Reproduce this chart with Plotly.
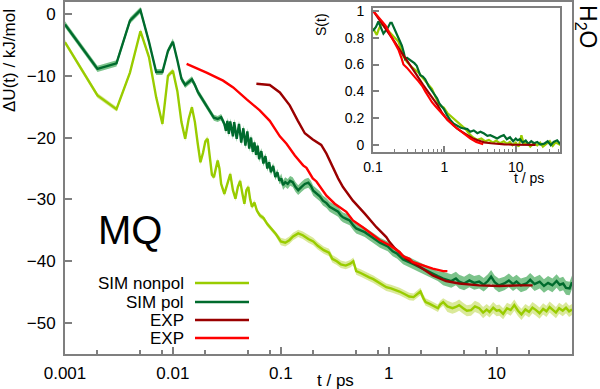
import plotly.graph_objects as go

# ---------------- main panel data ----------------
t_nonpol = [0.001, 0.002, 0.003, 0.004, 0.005, 0.006, 0.007, 0.008, 0.009, 0.010,
            0.011, 0.012, 0.013, 0.014, 0.015, 0.016, 0.017, 0.018, 0.019, 0.020,
            0.021, 0.022, 0.023, 0.024, 0.025, 0.026, 0.027, 0.028, 0.030, 0.032,
            0.034, 0.036, 0.038, 0.040, 0.042, 0.044, 0.046, 0.048, 0.050, 0.052,
            0.054, 0.057, 0.060, 0.064, 0.069, 0.075, 0.082, 0.090, 0.100, 0.110,
            0.120, 0.130, 0.145, 0.160, 0.180, 0.200, 0.220, 0.250, 0.280, 0.300,
            0.330, 0.360, 0.400, 0.440, 0.470, 0.500, 0.550, 0.600, 0.660, 0.720,
            0.800, 0.880, 0.950, 1.05, 1.15, 1.26, 1.40, 1.55, 1.70, 1.85,
            1.97, 2.10, 2.20, 2.40, 2.60, 2.86, 3.00, 3.20, 3.50, 3.90,
            4.20, 4.50, 4.90, 5.30, 5.80, 6.30, 6.90, 7.50, 8.10, 8.60,
            9.30, 10.0, 10.6, 11.5, 12.5, 13.5, 14.6, 15.8, 17.0, 18.5,
            20.0, 21.5, 23.2, 25.0, 27.0, 29.0, 31.0, 33.0, 35.5, 38.0,
            41.0, 44.0, 47.0, 50.0]
u_nonpol = [-4.6, -13.2, -15.4, -9.5, -2.8, -7.0, -13.5, -17.8, -10.0, -9.2,
            -12.5, -17.5, -20.2, -17.0, -15.1, -17.5, -21.0, -24.0, -22.5, -20.6,
            -20.2, -23.0, -26.0, -26.4, -25.0, -23.7, -25.0, -27.5, -29.1, -27.5,
            -25.9, -28.5, -29.9, -28.0, -27.0, -29.0, -30.7, -28.5, -28.0, -30.0,
            -31.2, -30.5, -31.8, -32.6, -33.0, -34.0, -34.8, -35.6, -36.8, -37.0,
            -36.6, -36.0, -35.5, -35.8, -36.4, -36.8, -37.5, -38.2, -38.6, -39.6,
            -40.0, -40.5, -40.7, -40.4, -40.0, -41.6, -41.9, -42.3, -42.6, -42.9,
            -43.4, -43.8, -44.2, -44.4, -44.6, -44.9, -45.3, -45.7, -45.8, -45.2,
            -44.9, -46.0, -46.6, -46.9, -47.2, -47.6, -47.0, -46.6, -47.3, -47.6,
            -47.4, -47.1, -47.6, -48.0, -47.9, -47.3, -47.6, -48.3, -47.8, -48.2,
            -47.5, -48.0, -47.9, -48.5, -47.6, -47.9, -47.1, -48.0, -48.6, -47.8,
            -48.2, -47.5, -47.9, -48.4, -47.7, -48.1, -47.4, -47.8, -48.3, -47.6,
            -48.0, -47.5, -48.1, -47.8]
err_nonpol = [0.4] * 48 + [0.6] * 40 + [0.9] * 36

t_pol = [0.001, 0.002, 0.003, 0.004, 0.005, 0.006, 0.007, 0.008, 0.009, 0.010,
         0.011, 0.012, 0.013, 0.014, 0.015, 0.016, 0.017, 0.018, 0.020, 0.022,
         0.024, 0.026, 0.028, 0.030, 0.031, 0.032, 0.033, 0.034, 0.036, 0.037,
         0.039, 0.041, 0.043, 0.045, 0.047, 0.049, 0.051, 0.053, 0.055, 0.057,
         0.059, 0.061, 0.063, 0.066, 0.069, 0.072, 0.075, 0.078, 0.081, 0.085,
         0.089, 0.093, 0.097, 0.101, 0.105, 0.110, 0.116, 0.122, 0.129, 0.137,
         0.145, 0.155, 0.167, 0.180, 0.190, 0.200, 0.214, 0.230, 0.246, 0.265,
         0.284, 0.310, 0.340, 0.360, 0.377, 0.400, 0.435, 0.470, 0.500, 0.550,
         0.600, 0.660, 0.720, 0.770, 0.830, 0.900, 0.980, 1.09, 1.20, 1.36,
         1.50, 1.66, 1.85, 2.05, 2.30, 2.56, 2.85, 3.20, 3.50, 3.80,
         4.20, 4.50, 5.00, 5.60, 6.20, 6.90, 7.60, 8.30, 8.90, 9.60,
         10.5, 11.8, 13.0, 14.2, 15.3, 16.8, 18.9, 20.5, 22.5, 25.1,
         27.5, 30.0, 32.9, 36.0, 38.5, 41.4, 44.0, 47.5, 50.0]
u_pol = [-1.7, -8.9, -8.0, -1.1, 0.6, -4.5, -9.4, -9.4, -6.0, -4.5,
         -7.5, -10.5, -11.5, -11.0, -10.6, -11.5, -12.6, -13.3, -14.6, -15.8,
         -16.8, -17.0, -16.7, -17.8, -18.9, -17.3, -19.4, -17.4, -19.8, -17.5,
         -20.2, -17.8, -20.8, -18.5, -21.3, -19.0, -21.8, -20.0, -22.3, -20.8,
         -22.8, -21.3, -23.5, -22.2, -24.2, -23.0, -25.0, -24.0, -25.6, -24.6,
         -26.4, -25.6, -27.0, -26.6, -27.7, -27.2, -27.5, -27.0, -27.2, -28.0,
         -28.5, -28.0, -27.5, -27.3, -27.8, -28.6, -29.1, -29.5, -30.2, -30.6,
         -31.2, -31.6, -32.0, -32.6, -32.9, -33.1, -33.4, -34.2, -34.7, -35.0,
         -35.3, -35.8, -36.2, -36.6, -37.0, -37.3, -37.6, -38.4, -38.8, -39.7,
         -40.0, -40.4, -40.8, -41.2, -41.6, -42.0, -42.4, -42.8, -43.0, -43.2,
         -42.8, -43.3, -43.6, -43.1, -43.5, -43.3, -43.8, -43.2, -42.5, -43.4,
         -43.9, -43.6, -43.1, -43.7, -43.3, -43.9, -43.6, -43.0, -43.7, -43.3,
         -44.0, -43.5, -43.9, -43.2, -43.8, -43.6, -44.3, -44.4, -43.4]
err_pol = [0.5] * 53 + [0.8] * 44 + [1.1] * 32

t_exp_dark = [0.0594, 0.079, 0.098, 0.121, 0.144, 0.167, 0.198, 0.237, 0.265, 0.284,
              0.316, 0.340, 0.377, 0.466, 0.600, 0.770, 0.950, 1.02, 1.14, 1.45,
              1.94, 2.56, 3.40, 4.50, 6.90, 10.6, 16.3, 21.6]
u_exp_dark = [-11.3, -11.5, -12.7, -14.8, -17.3, -19.3, -20.3, -21.2, -22.6, -23.7,
              -25.6, -26.6, -28.0, -30.2, -32.3, -34.5, -36.1, -36.9, -37.9, -39.6,
              -40.9, -42.3, -43.2, -43.6, -43.9, -44.0, -43.9, -43.9]

t_exp_red = [0.0134, 0.0205, 0.0292, 0.0362, 0.048, 0.0638, 0.079, 0.091, 0.098, 0.113,
             0.129, 0.135, 0.161, 0.173, 0.198, 0.214, 0.265, 0.316, 0.405, 0.466,
             0.575, 0.720, 0.830, 1.02, 1.26, 1.36, 1.56, 1.66, 2.05, 2.56,
             3.20, 3.50]
u_exp_red = [-8.1, -9.5, -10.8, -11.9, -13.8, -15.6, -17.3, -19.0, -19.8, -21.0,
             -22.4, -22.9, -24.5, -24.9, -26.6, -27.1, -29.4, -30.7, -32.0, -33.4,
             -34.5, -35.8, -36.6, -37.4, -38.5, -39.2, -39.6, -40.1, -40.6, -41.2,
             -41.6, -41.6]

# ---------------- inset data ----------------
ts_nonpol = [0.1, 0.107, 0.113, 0.12, 0.133, 0.145, 0.156, 0.175, 0.193, 0.21,
             0.227, 0.245, 0.267, 0.298, 0.32, 0.35, 0.39, 0.435, 0.48, 0.54,
             0.6, 0.67, 0.75, 0.83, 0.9, 0.98, 1.1, 1.28, 1.45, 1.67,
             1.85, 1.98, 2.2, 2.5, 2.9, 3.3, 3.7, 4.2, 4.8, 5.3,
             6.0, 6.8, 7.5, 8.3, 9.0, 10.0, 11.0, 12.0, 13.0, 14.5,
             16.0, 18.0, 20.0, 22.0, 24.0, 27.0, 30.0, 33.0, 36.0, 40.0, 42.0]
s_nonpol = [0.87, 0.84, 0.82, 0.86, 0.91, 0.88, 0.86, 0.83, 0.81, 0.79,
            0.77, 0.72, 0.66, 0.62, 0.60, 0.58, 0.56, 0.54, 0.51, 0.48,
            0.45, 0.42, 0.36, 0.31, 0.29, 0.28, 0.24, 0.21, 0.18, 0.15,
            0.13, 0.12, 0.09, 0.06, 0.04, 0.05, 0.03, 0.04, 0.02, 0.035,
            0.015, 0.03, 0.01, 0.025, 0.0, 0.02, -0.01, 0.075, 0.01, 0.02,
            -0.01, 0.015, 0.0, 0.02, -0.01, 0.01, 0.03, -0.005, 0.02, 0.01, 0.0]

ts_pol = [0.1, 0.11, 0.119, 0.13, 0.14, 0.16, 0.175, 0.183, 0.2, 0.215,
          0.235, 0.254, 0.27, 0.283, 0.3, 0.32, 0.35, 0.38, 0.41, 0.44,
          0.46, 0.5, 0.54, 0.6, 0.66, 0.72, 0.79, 0.85, 0.98, 1.1,
          1.2, 1.35, 1.5, 1.7, 1.87, 2.1, 2.3, 2.58, 2.9, 3.2,
          3.6, 4.0, 4.4, 4.9, 5.5, 6.1, 6.8, 7.5, 8.3, 9.2,
          10.0, 10.6, 11.5, 12.5, 13.8, 15.0, 16.5, 18.0, 20.0, 22.0,
          25.0, 28.0, 31.0, 34.0, 38.0, 42.0]
s_pol = [0.85, 0.88, 0.92, 0.87, 0.83, 0.87, 0.91, 0.91, 0.86, 0.83,
         0.78, 0.74, 0.69, 0.64, 0.65, 0.64, 0.62, 0.61, 0.59, 0.55,
         0.52, 0.51, 0.49, 0.44, 0.41, 0.38, 0.35, 0.31, 0.27, 0.22,
         0.19, 0.16, 0.145, 0.13, 0.125, 0.12, 0.10, 0.11, 0.09, 0.10,
         0.087, 0.07, 0.075, 0.062, 0.05, 0.065, 0.075, 0.045, 0.06, 0.03,
         0.05, 0.037, 0.045, 0.02, 0.035, 0.01, 0.03, 0.015, 0.025, 0.005,
         0.012, 0.03, 0.0, 0.025, 0.037, 0.01]

ts_exp_dark = [0.1, 0.12, 0.15, 0.2, 0.25, 0.3, 0.35, 0.4, 0.5, 0.6,
               0.7, 0.8, 0.93, 1.1, 1.28, 1.5, 1.77, 2.0, 2.5, 3.0,
               3.6, 4.5, 5.5, 7.0, 9.0, 12.0, 15.0, 19.0]
s_exp_dark = [1.0, 0.94, 0.87, 0.77, 0.69, 0.63, 0.58, 0.53, 0.45, 0.39,
              0.34, 0.30, 0.24, 0.19, 0.16, 0.125, 0.10, 0.08, 0.05, 0.035,
              0.022, 0.015, 0.01, 0.007, 0.005, 0.004, 0.003, 0.003]

ts_exp_red = [0.1, 0.125, 0.15, 0.175, 0.2, 0.227, 0.25, 0.267, 0.3, 0.332,
              0.38, 0.435, 0.49, 0.54, 0.6, 0.67, 0.75, 0.88, 1.0, 1.15,
              1.35, 1.59, 1.8, 1.98, 2.32, 2.8, 3.3, 3.5]
s_exp_red = [1.0, 0.94, 0.89, 0.82, 0.76, 0.71, 0.65, 0.60, 0.575, 0.55,
             0.51, 0.475, 0.44, 0.40, 0.36, 0.32, 0.29, 0.25, 0.21, 0.18,
             0.145, 0.115, 0.095, 0.08, 0.05, 0.025, 0.01, 0.008]

main_ticks = [0.001, 0.01, 0.1, 1, 10]
main_ticktext = ["0.001", "0.01", "0.1", "1", "10"]
main_minor = [m * d for d in (0.001, 0.01, 0.1, 1, 10) for m in (2, 5, 8)]
u_ticks = [0, -10, -20, -30, -40, -50]
inset_ticks = [0.1, 1, 10]
inset_ticktext = ["0.1", "1", "10"]
inset_minor = [m * d for d in (0.1, 1, 10) for m in range(2, 10)]
s_ticks = [0, 0.2, 0.4, 0.6, 0.8, 1]
s_ticktext = ["0", "0.2", "0.4", "0.6", "0.8", "1"]

legend_labels = ["SIM nonpol", "SIM pol", "EXP", "EXP"]

# ---------------- styles ----------------
C_NONPOL = "#99cc00"
C_NONPOL_BAND = "rgba(205,225,120,0.75)"
C_POL = "#006b2d"
C_POL_BAND = "rgba(80,175,100,0.75)"
C_DARK = "#9a0000"
C_RED = "#ff0000"
AX = "#7f7f7f"
FONT = "Liberation Sans, Arial, sans-serif"

fig = go.Figure()


def band(t, u, e, color, xa, ya):
    up = [a + b for a, b in zip(u, e)]
    lo = [a - b for a, b in zip(u, e)]
    fig.add_trace(go.Scatter(x=t, y=up, mode="lines", line=dict(width=0, color=color),
                             xaxis=xa, yaxis=ya, showlegend=False, hoverinfo="skip"))
    fig.add_trace(go.Scatter(x=t, y=lo, mode="lines", line=dict(width=0, color=color),
                             fill="tonexty", fillcolor=color,
                             xaxis=xa, yaxis=ya, showlegend=False, hoverinfo="skip"))


def line(t, u, color, xa, ya, w=2.4):
    fig.add_trace(go.Scatter(x=t, y=u, mode="lines", line=dict(color=color, width=w),
                             xaxis=xa, yaxis=ya, showlegend=False))


assert len(t_nonpol) == len(u_nonpol) == len(err_nonpol)
assert len(t_pol) == len(u_pol) == len(err_pol)

band(t_nonpol, u_nonpol, err_nonpol, C_NONPOL_BAND, "x", "y")
line(t_nonpol, u_nonpol, C_NONPOL, "x", "y")
band(t_pol, u_pol, err_pol, C_POL_BAND, "x", "y")
line(t_pol, u_pol, C_POL, "x", "y")
line(t_exp_dark, u_exp_dark, C_DARK, "x", "y")
line(t_exp_red, u_exp_red, C_RED, "x", "y")

line(ts_nonpol, s_nonpol, C_NONPOL, "x2", "y2", 2.2)
line(ts_pol, s_pol, C_POL, "x2", "y2", 2.2)
line(ts_exp_dark, s_exp_dark, C_DARK, "x2", "y2", 2.2)
line(ts_exp_red, s_exp_red, C_RED, "x2", "y2", 2.2)

W, H = 600, 389
def px(x):
    return x / W
def py(y):
    return 1 - y / H

common = dict(showline=True, linecolor=AX, linewidth=2, mirror=True, automargin=False,
              showgrid=False, zeroline=False, ticks="inside", tickcolor=AX,
              tickwidth=1.5)
f_main = dict(family=FONT, color="black", size=17)
f_in = dict(family=FONT, color="black", size=14)

fig.update_layout(
    template="none",
    width=W, height=H, margin=dict(l=0, r=0, t=0, b=0, autoexpand=False),
    paper_bgcolor="white", plot_bgcolor="white", showlegend=False,
    font=dict(family=FONT, color="black"),
    xaxis=dict(type="log", range=[-3, 1.699], domain=[px(65), px(572)], anchor="y",
               tickvals=main_ticks, ticktext=main_ticktext, ticklen=7, tickfont=f_main,
               ticklabelstandoff=3,
               minor=dict(tickvals=main_minor, ticks="inside", ticklen=4,
                          tickcolor=AX, tickwidth=1.5), **common),
    yaxis=dict(range=[-55, 2], domain=[py(354), py(1.5)], anchor="x",
               tickvals=u_ticks, ticklen=7, tickfont=f_main, ticklabelstandoff=4,
               **common),
    xaxis2=dict(type="log", range=[-1, 1.62], domain=[px(373), px(560)], anchor="y2",
                tickvals=inset_ticks, ticktext=inset_ticktext, ticklen=6, tickfont=f_in,
                ticklabelstandoff=1,
                minor=dict(tickvals=inset_minor, ticks="inside", ticklen=3,
                           tickcolor=AX, tickwidth=1.2), **common),
    yaxis2=dict(range=[-0.05, 1.02], domain=[py(152), py(8)], anchor="x2",
                tickvals=s_ticks, ticktext=s_ticktext, ticklen=6, tickfont=f_in,
                ticklabelstandoff=4, **common),
)

ann = []
ann.append(dict(text="ΔU(t) / kJ/mol", x=px(9), y=py(61), textangle=-90, font=dict(size=17)))
ann.append(dict(text="t / ps", x=px(335), y=py(380), font=dict(size=17)))
ann.append(dict(text="S(t)", x=px(321), y=py(25), textangle=-90, font=dict(size=14)))
ann.append(dict(text="t / ps", x=px(529), y=py(178), font=dict(size=14)))
ann.append(dict(text="MQ", x=px(130), y=py(230), font=dict(size=40)))
ann.append(dict(text="H<sub>2</sub>O", x=px(586), y=py(26), textangle=90, font=dict(size=23)))
for a in ann:
    a.update(xref="paper", yref="paper", showarrow=False, xanchor="center", yanchor="middle")
    fig.add_annotation(**a)

leg_colors = [C_NONPOL, C_POL, C_DARK, C_RED]
leg_y = [283, 302, 320, 338]
for lab, col, yy in zip(legend_labels, leg_colors, leg_y):
    fig.add_annotation(text=lab, x=px(186), y=py(yy), xref="paper", yref="paper",
                       showarrow=False, xanchor="right", yanchor="middle",
                       font=dict(size=17))
    fig.add_shape(type="line", xref="paper", yref="paper", x0=px(195), x1=px(249),
                  y0=py(yy), y1=py(yy), line=dict(color=col, width=2.4))

fig.write_html("out.html", config={"displayModeBar": False},
               post_script="document.body.style.margin='0';document.body.style.overflow='hidden';")
